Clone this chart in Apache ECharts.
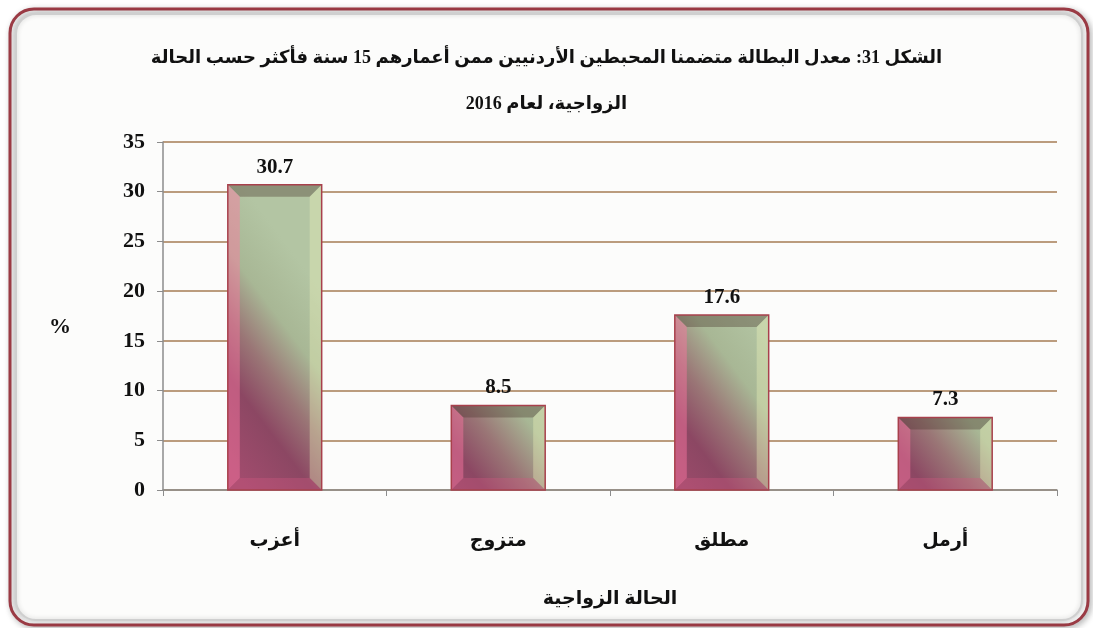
<!DOCTYPE html>
<html>
<head>
<meta charset="utf-8">
<script src="https://cdn.jsdelivr.net/npm/echarts@6/dist/echarts.min.js"></script>
<style>
  html, body { margin: 0; padding: 0; background: #ffffff; }
  #chart { width: 1093px; height: 628px; direction: rtl; }
</style>
</head>
<body>
<div id="chart"></div>
<script>
// data
const categories = ["أعزب", "متزوج", "مطلق", "أرمل"];
const rates = [30.7, 8.5, 17.6, 7.3];
const yTicks = [0, 5, 10, 15, 20, 25, 30, 35];

const titleLine1 = "الشكل 31: معدل البطالة متضمنا المحبطين الأردنيين ممن أعمارهم 15 سنة فأكثر حسب الحالة";
const titleLine2 = "الزواجية، لعام 2016";
const xName = "الحالة الزواجية";
const yName = "%";

const FONT = "'Liberation Serif', 'DejaVu Sans', serif";
const BAR_RATIO = 0.42;

const chart = echarts.init(document.getElementById("chart"));

// bar body + bevel edges, drawn per bar in pixel space
function renderBar(params, api) {
  const idx = api.value(0);
  const top = api.coord([idx, api.value(1)]);
  const bottom = api.coord([idx, 0]);
  const w = api.size([1, 0])[0] * BAR_RATIO;
  const x0 = top[0] - w / 2, x1 = top[0] + w / 2;
  const y0 = top[1], y1 = bottom[1];
  const h = y1 - y0;
  const b = Math.min(12, h / 3);

  // diagonal gradient: maroon bottom-left -> sage green top-right
  const cx = top[0];
  const cy = y1 - Math.min(h / 2, 0.3 * h + 20);
  const ux = 0.8, uy = -0.6, L = 90;
  const fill = new echarts.graphic.LinearGradient(
    cx - ux * L, cy - uy * L, cx + ux * L, cy + uy * L,
    [
      { offset: 0, color: "#a24c6e" },
      { offset: 0.3, color: "#8c4763" },
      { offset: 0.5, color: "#9a7676" },
      { offset: 0.72, color: "#a8b795" },
      { offset: 1, color: "#b3c5a3" },
    ],
    true
  );

  return {
    type: "group",
    children: [
      { type: "rect", shape: { x: x0, y: y0, width: w, height: h }, style: { fill: fill } },
      { type: "polygon", shape: { points: [[x0, y0], [x1, y0], [x1 - b, y0 + b], [x0 + b, y0 + b]] },
        style: { fill: "rgba(70,50,40,0.35)" } },
      { type: "polygon", shape: { points: [[x0, y0], [x0 + b, y0 + b], [x0 + b, y1 - b], [x0, y1]] },
        style: { fill: "rgba(255,120,165,0.45)" } },
      { type: "polygon", shape: { points: [[x1, y0], [x1, y1], [x1 - b, y1 - b], [x1 - b, y0 + b]] },
        style: { fill: "rgba(240,245,190,0.35)" } },
      { type: "polygon", shape: { points: [[x0, y1], [x1, y1], [x1 - b, y1 - b], [x0 + b, y1 - b]] },
        style: { fill: "rgba(210,90,130,0.35)" } },
      { type: "rect", shape: { x: x0, y: y0, width: w, height: h },
        style: { fill: "none", stroke: "#a8404c", lineWidth: 1.5 } },
    ],
  };
}

const options = {
  animation: false,
  backgroundColor: "#ffffff",
  graphic: [
    {
      type: "rect", z: -10, silent: true,
      shape: { x: 10, y: 9, width: 1078, height: 616, r: 24 },
      style: { fill: "#fdfdfd", stroke: "#9b3b45", lineWidth: 3,
        shadowColor: "rgba(0,0,0,0.25)", shadowBlur: 6, shadowOffsetX: 2, shadowOffsetY: 2 },
    },
    {
      type: "rect", z: -9, silent: true,
      shape: { x: 16, y: 14, width: 1066, height: 606, r: 20 },
      style: { fill: "#fcfcfb", stroke: "#cfcfcf", lineWidth: 2,
        shadowColor: "rgba(0,0,0,0.2)", shadowBlur: 5 },
    },
    {
      type: "text", left: "center", top: 49,
      style: { text: titleLine1, font: "bold 18px " + FONT, fill: "#111" },
    },
    {
      type: "text", left: "center", top: 95,
      style: { text: titleLine2, font: "bold 18px " + FONT, fill: "#111" },
    },
    {
      type: "text", x: 60, y: 327,
      style: { text: yName, font: "bold 22px " + FONT, fill: "#111", align: "center", verticalAlign: "middle" },
    },
  ],
  grid: { left: 163, right: 36, top: 142, bottom: 138 },
  xAxis: {
    type: "category",
    data: categories,
    name: xName,
    nameLocation: "middle",
    nameGap: 100,
    nameTextStyle: { fontFamily: FONT, fontWeight: "bold", fontSize: 19, color: "#111" },
    axisLine: { lineStyle: { color: "#8c8c8c", width: 1.5 } },
    axisTick: { show: true, length: 6, lineStyle: { color: "#8c8c8c" } },
    axisLabel: { fontFamily: FONT, fontWeight: "bold", fontSize: 19, color: "#111", margin: 42 },
  },
  yAxis: {
    type: "value",
    min: yTicks[0],
    max: yTicks[yTicks.length - 1],
    interval: 5,
    axisLine: { show: true, lineStyle: { color: "#8c8c8c", width: 1.5 } },
    axisTick: { show: true, length: 6, lineStyle: { color: "#8c8c8c" } },
    axisLabel: { fontFamily: FONT, fontWeight: "bold", fontSize: 22, color: "#111", margin: 18 },
    splitLine: { lineStyle: { color: "#a67c55", width: 1.5 } },
  },
  series: [
    {
      // invisible bars carry the value labels
      type: "bar",
      data: rates,
      barWidth: BAR_RATIO * 100 + "%",
      itemStyle: { color: "rgba(0,0,0,0)" },
      label: {
        show: true, position: "top", distance: 7,
        fontFamily: FONT, fontWeight: "bold", fontSize: 21, color: "#111",
        formatter: (p) => p.value.toFixed(1),
      },
    },
    {
      type: "custom",
      data: rates.map((v, i) => [i, v]),
      renderItem: renderBar,
      silent: true,
      z: 3,
    },
  ],
};

chart.setOption(options);
</script>
</body>
</html>
